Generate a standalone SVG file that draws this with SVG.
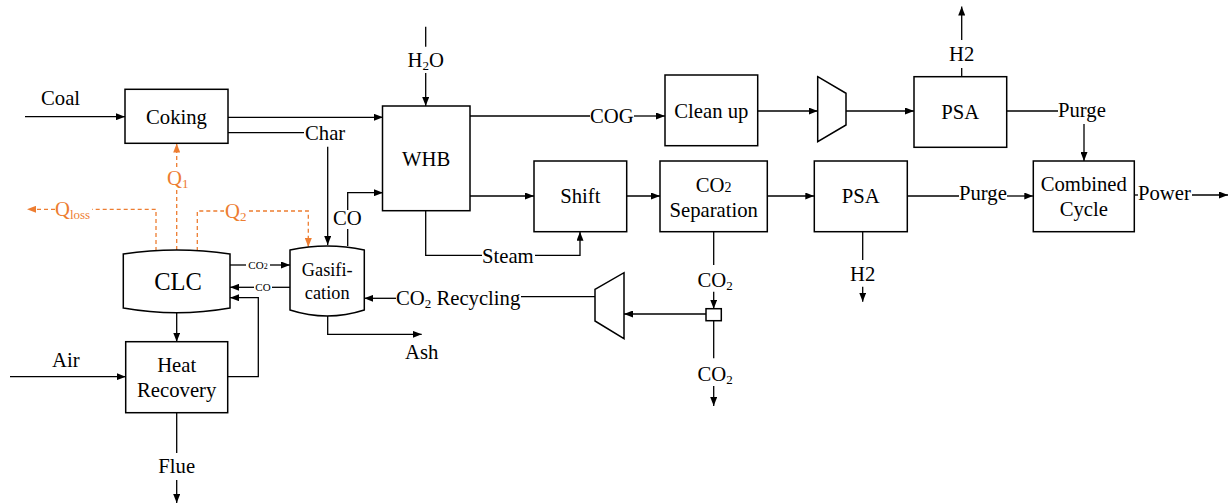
<svg xmlns="http://www.w3.org/2000/svg" width="1229" height="504" viewBox="0 0 1229 504" font-family="Liberation Serif, Times New Roman, DejaVu Serif, serif">
<style>
text{font-family:'Liberation Serif','Times New Roman','DejaVu Serif',serif;font-size:20.7px;fill:#000}
.m{text-anchor:middle}
.s{font-size:11px}
.o{fill:#ED7D31}
.ln{fill:none;stroke:#000;stroke-width:1.3}
.ar{fill:none;stroke:#000;stroke-width:1.3;marker-end:url(#a)}
.dq{fill:none;stroke:#ED7D31;stroke-width:1.3;stroke-dasharray:4 3}
.dqa{fill:none;stroke:#ED7D31;stroke-width:1.3;stroke-dasharray:4 3;marker-end:url(#ao)}
.box{fill:#fff;stroke:#000;stroke-width:1.5}
</style>
<defs>
<marker id="a" markerUnits="userSpaceOnUse" viewBox="0 0 9 7" markerWidth="9" markerHeight="7" refX="9" refY="3.5" orient="auto"><path d="M0,0L9,3.5L0,7z" fill="#000"/></marker>
<marker id="ao" markerUnits="userSpaceOnUse" viewBox="0 0 9 7" markerWidth="9" markerHeight="7" refX="9" refY="3.5" orient="auto"><path d="M0,0L9,3.5L0,7z" fill="#ED7D31"/></marker>
</defs>
<rect width="1229" height="504" fill="#fff"/>

<g id="connectors">
<path class="ar" d="M25,116.7H125"/>
<path class="ar" d="M228,117.3H383"/>
<path class="ln" d="M228,132.7H304"/>
<path class="ar" d="M327.7,146.7V245"/>
<path class="ln" d="M347.7,246V229"/>
<path class="ar" d="M347.7,210V192.7H383"/>
<path class="ln" d="M425.7,26.7V46.7"/>
<path class="ar" d="M425.7,73V106"/>
<path class="ln" d="M470,116H590"/>
<path class="ar" d="M634,116H665"/>
<path class="ar" d="M757.7,111H817.7"/>
<path class="ar" d="M846,111H914"/>
<path class="ln" d="M961.7,76.7V68"/>
<path class="ar" d="M961.7,40V6.5"/>
<path class="ln" d="M1006.7,111H1058"/>
<path class="ar" d="M1084,124V161"/>
<path class="ar" d="M470,196H534"/>
<path class="ar" d="M626.7,196H660"/>
<path class="ar" d="M767.3,196H814.3"/>
<path class="ln" d="M425.7,211V255.3H482"/>
<path class="ar" d="M535,255.3H580V231.7"/>
<path class="ln" d="M862.7,231.7V260"/>
<path class="ar" d="M862.7,286.7V301.7"/>
<path class="ln" d="M907.3,196H959"/>
<path class="ar" d="M1007,196H1033.3"/>
<path class="ln" d="M1134.3,195H1138"/>
<path class="ar" d="M1192,195H1228"/>
<path class="ln" d="M713.7,231.7V265"/>
<path class="ar" d="M713.7,291.7V308.7"/>
<path class="ar" d="M706,314H624"/>
<path class="ln" d="M713.7,320.7V358.3"/>
<path class="ar" d="M713.7,386V406"/>
<path class="ln" d="M595,296.7H521"/>
<path class="ar" d="M396,298.3H364.3"/>
<path class="ln" d="M230,265H246"/>
<path class="ar" d="M270,265H290"/>
<path class="ln" d="M290,287.3H272"/>
<path class="ar" d="M254,287.3H230"/>
<path class="ar" d="M227.7,376.7H258.3V297.7H230"/>
<path class="ar" d="M176.7,313V341.7"/>
<path class="ar" d="M10,376.7H125.7"/>
<path class="ln" d="M176.7,412.7V453"/>
<path class="ar" d="M176.7,480V503"/>
<path class="ar" d="M327.7,316V334.3H421.7"/>
<path class="dq" d="M176.7,250V190"/>
<path class="dqa" d="M176.7,167V143.5"/>
<path class="dq" d="M156,251V209.3H92"/>
<path class="dqa" d="M55,209.3H27"/>
<path class="dq" d="M197.3,251V211H224"/>
<path class="dqa" d="M249,211H308.3V247"/>
</g>

<g id="coking"><rect class="box" x="125" y="89.3" width="103" height="54"/><text class="m" x="176.5" y="123.5">Coking</text></g>
<g id="clc"><path class="box" d="M123.3,254Q176.7,246 230,254L230,308Q176.7,317.4 123.3,308Z"/><text class="m" x="178" y="290" style="font-size:24.5px">CLC</text></g>
<g id="gasification"><path class="box" d="M290,250Q327.2,242 364.3,250L364.3,310Q327.2,322 290,310Z"/><text class="m" x="327.2" y="276" style="font-size:18.3px">Gasifi-</text><text class="m" x="327.2" y="299" style="font-size:18.3px">cation</text></g>
<g id="heat-recovery"><rect class="box" x="125.7" y="341.7" width="102" height="71"/><text class="m" x="176.7" y="371.7">Heat</text><text class="m" x="176.7" y="396.7">Recovery</text></g>
<g id="whb"><rect class="box" x="382.5" y="106" width="87.5" height="104.7"/><text class="m" x="426.2" y="165.5">WHB</text></g>
<g id="clean-up"><rect class="box" x="665" y="75" width="92.7" height="70.7"/><text class="m" x="711.3" y="117.5">Clean up</text></g>
<g id="compressor-1"><polygon class="box" points="817.7,76.7 846,93.3 846,125 817.7,141.7"/></g>
<g id="psa-1"><rect class="box" x="914" y="76.7" width="92.7" height="70.6"/><text class="m" x="960.3" y="119">PSA</text></g>
<g id="shift"><rect class="box" x="534" y="161" width="92.7" height="70.7"/><text class="m" x="580.3" y="202.7">Shift</text></g>
<g id="co2-separation"><rect class="box" x="660" y="161" width="107.3" height="70.7"/><text class="m" x="713.7" y="192.3">CO<tspan style="font-size:14px">2</tspan></text><text class="m" x="713.7" y="216.7">Separation</text></g>
<g id="psa-2"><rect class="box" x="814.3" y="161" width="93" height="70.7"/><text class="m" x="860.8" y="202.7">PSA</text></g>
<g id="combined-cycle"><rect class="box" x="1033.3" y="161" width="101" height="70.7"/><text class="m" x="1083.8" y="191">Combined</text><text class="m" x="1083.8" y="216">Cycle</text></g>
<g id="compressor-2"><polygon class="box" points="595,289.3 624,272.7 624,338.7 595,321"/></g>
<g id="splitter"><rect class="box" x="706" y="308.7" width="15.3" height="12"/></g>

<g id="labels">
<text x="41" y="105">Coal</text>
<text x="305" y="140">Char</text>
<text x="333" y="225">CO</text>
<text class="m" x="425.7" y="66.7">H<tspan style="font-size:13px" dy="3">2</tspan><tspan dy="-3">O</tspan></text>
<text x="590" y="123">COG</text>
<text class="m" x="961.7" y="61">H2</text>
<text x="1058" y="116.7">Purge</text>
<text x="482" y="263.3">Steam</text>
<text class="m" x="862.7" y="280.7">H2</text>
<text x="959" y="200">Purge</text>
<text x="1138" y="200">Power</text>
<text class="m" x="715" y="287">CO<tspan style="font-size:13px" dy="3">2</tspan></text>
<text class="m" x="715" y="381">CO<tspan style="font-size:13px" dy="3">2</tspan></text>
<text x="396" y="305">CO<tspan style="font-size:13px" dy="3">2</tspan><tspan dy="-3"> Recycling</tspan></text>
<text class="m s" x="258" y="269">CO<tspan style="font-size:8px">2</tspan></text>
<text class="m s" x="263" y="291">CO</text>
<text x="52" y="367.3">Air</text>
<text class="m" x="176.7" y="473.3">Flue</text>
<text x="405" y="359">Ash</text>
<text class="o" x="167" y="185">Q<tspan style="font-size:13px" dy="3">1</tspan></text>
<text class="o" x="55" y="216">Q<tspan style="font-size:13px" dy="3">loss</tspan></text>
<text class="o" x="225" y="218">Q<tspan style="font-size:13px" dy="3">2</tspan></text>
</g>
</svg>
